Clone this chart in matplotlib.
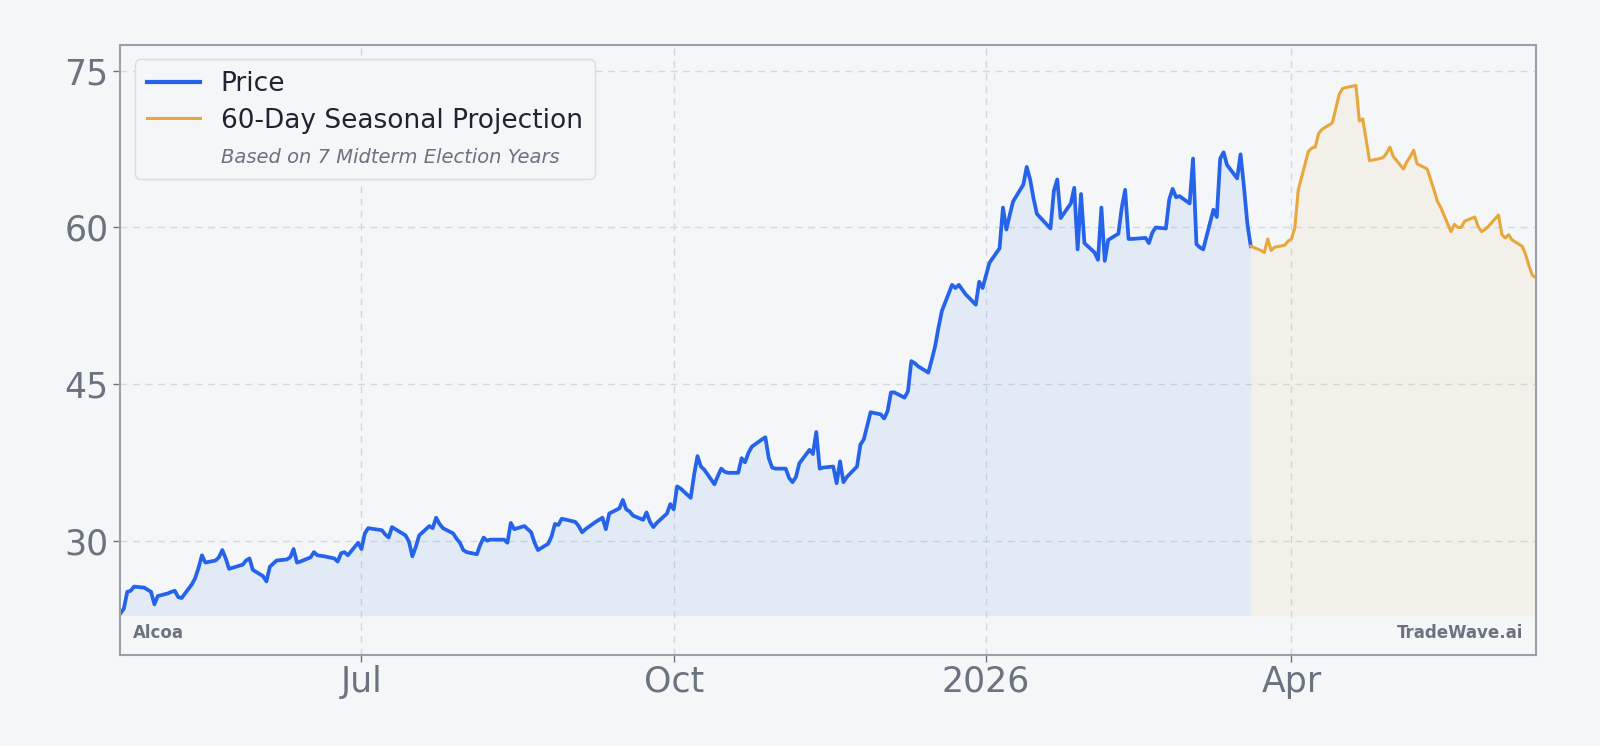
import matplotlib
matplotlib.use("Agg")
import matplotlib.pyplot as plt
import matplotlib.lines as mlines
import pandas as pd

# Alcoa daily closes (trading days)
price = [
    23.05, 23.5, 25.1, 25.2, 25.6, 25.5, 25.3, 25.1, 23.9, 24.7,
    24.95, 25.1, 25.2, 24.6, 24.5, 25.8, 26.4, 27.4, 28.6, 27.9,
    28.1, 28.4, 29.1, 28.3, 27.3, 27.7, 28.1, 28.3, 27.2, 26.6,
    26.1, 27.5, 27.8, 28.1, 28.2, 28.4, 29.2, 27.9, 28.0, 28.4,
    28.9, 28.6, 28.5, 28.3, 28.0, 28.8, 28.9, 28.6, 29.8, 29.2,
    30.7, 31.2,
    31.0, 30.6, 30.3, 31.3, 31.1, 30.5, 29.9, 28.5, 29.4, 30.5,
    31.4, 31.2, 32.2, 31.6, 31.2, 30.7, 30.2, 29.8, 29.1, 28.9,
    28.7, 29.6, 30.3, 30.0, 30.1, 30.1, 30.1, 29.8, 31.7, 31.1,
    31.4, 31.1, 30.8, 29.8, 29.1, 29.7, 30.4, 31.6, 31.5, 32.1,
    31.8, 31.4, 30.8, 31.1, 31.8, 32.0, 32.2, 31.1, 32.6,
    33.1, 33.9, 33.0, 32.8, 32.4, 32.0, 32.7, 31.8, 31.3, 31.7,
    32.6, 33.5, 33.0, 35.2, 35.0, 34.1, 36.3, 38.1, 37.1, 36.8,
    35.4, 36.2, 36.9, 36.6, 36.5, 36.5, 37.9, 37.5, 38.4, 39.0,
    39.7, 39.9, 37.9, 37.0, 36.9, 36.9, 36.0, 35.6, 36.1, 37.4,
    38.7, 38.3, 40.4, 36.9, 37.0, 37.1, 35.5, 37.6, 35.6, 36.1,
    37.1, 39.2,
    39.7, 42.3, 42.1, 41.7, 42.4, 44.2, 44.2, 43.7, 44.3, 47.2,
    47.0, 46.7, 46.1, 47.3, 48.6, 50.4, 52.0, 54.5, 54.2, 54.5,
    53.6, 52.6, 54.8, 54.2, 56.6,
    58.0, 61.9, 59.8, 61.2, 62.5, 64.1, 65.8, 64.6, 62.8, 61.3,
    59.9, 63.5, 64.6, 60.9, 62.3, 63.8, 57.9, 63.2, 58.5, 57.6,
    56.9, 61.9, 56.8, 58.8, 59.4, 61.9, 63.6, 58.9, 58.9, 59.0,
    58.5, 59.5, 60.0, 59.9, 62.7, 63.7, 62.9, 63.0, 62.3, 66.6,
    58.4, 58.1, 57.9, 61.7, 61.0, 66.6, 67.2, 66.0, 64.7, 67.0,
    63.9, 60.4, 58.2,
]

# 60-day seasonal projection (first value = last close)
projection = [
    58.2, 57.8, 57.6, 58.9, 57.8, 58.1, 58.3, 58.7, 58.9, 60.0,
    63.6, 67.3, 67.6, 67.7, 69.0, 69.4, 70.0, 71.3, 72.7, 73.3,
    73.4, 73.6, 70.2, 70.4, 68.4, 66.4, 66.6, 66.7, 67.1, 67.7,
    66.8, 65.6, 66.3, 66.8, 67.4, 66.1, 65.6, 64.6, 63.6, 62.5,
    61.9, 59.6, 60.3, 60.0, 60.0, 60.6, 61.0, 60.1, 59.6, 59.8,
    60.1, 61.2, 59.3, 59.0, 59.3, 58.8, 58.2, 57.4, 56.3, 55.4,
    55.2,
]

last_close_date = "2026-03-20"
market_holidays = ["2025-05-26", "2025-06-19", "2025-07-04", "2025-09-01",
                   "2025-11-27", "2025-12-25", "2026-01-01", "2026-01-19",
                   "2026-02-16"]

tick_dates = ["2025-07-01", "2025-10-01", "2026-01-01", "2026-04-01"]
tick_labels = ["Jul", "Oct", "2026", "Apr"]

price_dates = pd.bdate_range(end=last_close_date, periods=len(price), freq="C",
                             holidays=market_holidays)
proj_dates = pd.bdate_range(start=last_close_date, periods=len(projection))

BG = "#f4f6f8"
BLUE = "#2563eb"
ORANGE = "#e8a73a"
GREY = "#6b7280"

fig = plt.figure(figsize=(16, 7.46), dpi=100, facecolor=BG)
ax = fig.add_axes([0.0753, 0.122, 0.8846, 0.818])
ax.set_facecolor(BG)

base = min(price) * 0.99
ax.fill_between(price_dates, price, base, color="#4a90e2", alpha=0.1, linewidth=0)
ax.fill_between(proj_dates, projection, base, color=ORANGE, alpha=0.08, linewidth=0)
ax.plot(price_dates, price, color=BLUE, lw=2.7, solid_joinstyle="round")
ax.plot(proj_dates, projection, color=ORANGE, lw=2.2, solid_joinstyle="round")

ax.set_xlim(price_dates[0], proj_dates[-1])
ax.set_ylim(19.05, 77.5)

ax.set_yticks([30, 45, 60, 75])
ax.set_xticks(pd.to_datetime(tick_dates))
ax.set_xticklabels(tick_labels)
ax.tick_params(axis="both", labelsize=25, colors=GREY, length=5, width=1)
ax.tick_params(axis="x", pad=2)
ax.grid(True, color="#d5d9df", linestyle=(0, (5, 4)), linewidth=1)
ax.set_axisbelow(True)
for s in ax.spines.values():
    s.set_color("#9aa0ab")
    s.set_linewidth(1.5)

price_handle = mlines.Line2D([], [], color=BLUE, lw=3)
proj_handle = mlines.Line2D([], [], color=ORANGE, lw=2.2)
note_handle = mlines.Line2D([], [], color="none")
leg = ax.legend([price_handle, proj_handle, note_handle],
                ["Price", "60-Day Seasonal Projection", "Based on 7 Midterm Election Years"],
                loc="upper left", bbox_to_anchor=(0.0, 1.0), fontsize=19,
                frameon=True, facecolor=BG, edgecolor="#d9dde3", framealpha=1,
                handlelength=2.0, borderpad=0.45, borderaxespad=0.55,
                labelspacing=0.4, handletextpad=0.8)
for t in leg.get_texts():
    t.set_color("#1f2430")
note = leg.get_texts()[2]
note.set_fontsize(14)
note.set_style("italic")
note.set_color(GREY)

ax.text(0.009, 0.036, "Alcoa", transform=ax.transAxes, fontsize=12,
        fontweight="bold", color=GREY, ha="left", va="center")
ax.text(0.991, 0.036, "TradeWave.ai", transform=ax.transAxes, fontsize=12,
        fontweight="bold", color=GREY, ha="right", va="center")

fig.savefig("out.png", dpi=100, facecolor=BG)
